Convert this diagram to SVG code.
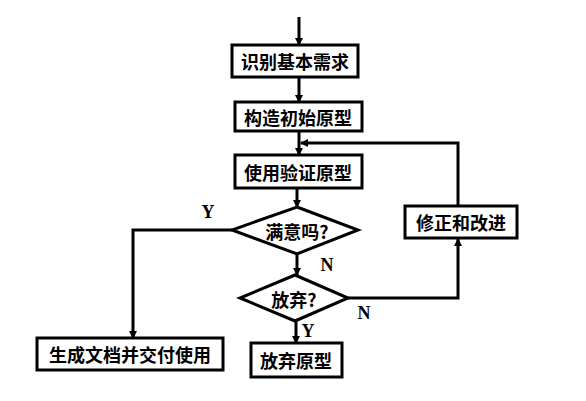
<svg xmlns="http://www.w3.org/2000/svg" width="586" height="401" viewBox="0 0 586 401">
<style>
.box{fill:#fff;stroke:#000;stroke-width:3}
.t{font-family:"Noto Sans CJK SC","Noto Sans",sans-serif;font-size:18px;font-weight:700;fill:#000;text-anchor:middle;dominant-baseline:central}
.lbl{font-family:"Liberation Serif",serif;font-size:18px;font-weight:700;fill:#000;text-anchor:middle;dominant-baseline:central}
.ln{fill:none;stroke:#000;stroke-width:3}
</style>
<defs>
<marker id="arr" markerWidth="8" markerHeight="8" refX="7" refY="4" orient="auto" markerUnits="userSpaceOnUse">
<path d="M0,0 L8,4 L0,8 Z" fill="#000"/>
</marker>
</defs>
<rect width="586" height="401" fill="#fff"/>
<g id="connectors">
<path class="ln" d="M299,17 V45" marker-end="url(#arr)"/>
<path class="ln" d="M299,78 V102" marker-end="url(#arr)"/>
<path class="ln" d="M299,131 V155" marker-end="url(#arr)"/>
<path class="ln" d="M458,206 V143 H301" marker-end="url(#arr)"/>
<path class="ln" d="M297,189 V207" marker-end="url(#arr)"/>
<path class="ln" d="M297,254 V275" marker-end="url(#arr)"/>
<path class="ln" d="M296,321 V343" marker-end="url(#arr)"/>
<path class="ln" d="M232,230 H133 V338" marker-end="url(#arr)"/>
<path class="ln" d="M348,298 H458 V239" marker-end="url(#arr)"/>
</g>
<g id="n1"><rect class="box" x="232" y="45" width="126" height="32"/><text class="t" x="295" y="61">识别基本需求</text></g>
<g id="n2"><rect class="box" x="235" y="102" width="127" height="29"/><text class="t" x="298" y="117">构造初始原型</text></g>
<g id="n3"><rect class="box" x="235" y="155" width="127" height="33"/><text class="t" x="298" y="172">使用验证原型</text></g>
<g id="d1"><polygon class="box" points="297,207 358,230 297,254 232,230"/><text class="t" x="297" y="231">满意吗?</text></g>
<g id="d2"><polygon class="box" points="295,275 348,298 295,321 240,298"/><text class="t" x="294" y="299">放弃?</text></g>
<g id="n4"><rect class="box" x="405" y="206" width="112" height="32"/><text class="t" x="461" y="222">修正和改进</text></g>
<g id="n5"><rect class="box" x="37" y="338" width="186" height="32"/><text class="t" x="130" y="354">生成文档并交付使用</text></g>
<g id="n6"><rect class="box" x="251" y="343" width="91" height="34"/><text class="t" x="296" y="360">放弃原型</text></g>
<g id="labels">
<text class="lbl" x="208" y="212">Y</text>
<text class="lbl" x="327" y="265">N</text>
<text class="lbl" x="364" y="313">N</text>
<text class="lbl" x="308" y="331">Y</text>
</g>
</svg>
